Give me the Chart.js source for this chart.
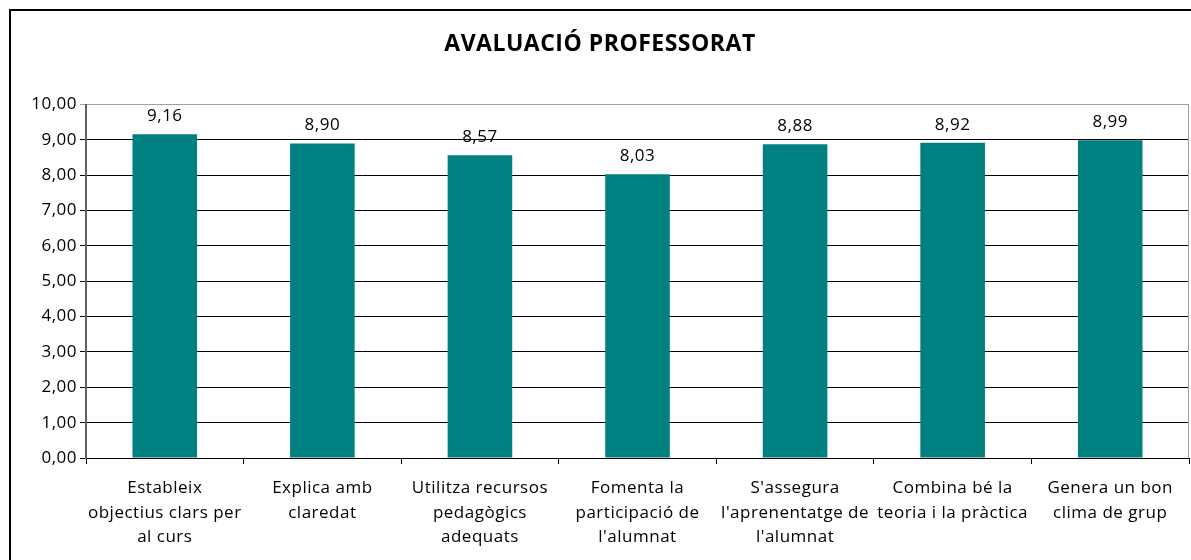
<!DOCTYPE html>
<html>
<head>
<meta charset="utf-8">
<script src="https://cdn.jsdelivr.net/npm/chart.js@4.4.1/dist/chart.umd.min.js"></script>
<style>
  html, body { margin: 0; padding: 0; background: #fff; overflow: hidden; width: 1191px; height: 560px; }
  #frame { position: absolute; left: 9px; top: 9px; width: 1200px; height: 600px; border: 2px solid #000; box-sizing: border-box; }
  #c { position: absolute; left: 11px; top: 11px; }
</style>
</head>
<body>
<div id="frame"></div>
<canvas id="c" width="1188" height="549"></canvas>
<script>
const titleText = "AVALUACIÓ PROFESSORAT";
const categories = [
  ["Estableix", "objectius clars per", "al curs"],
  ["Explica amb", "claredat"],
  ["Utilitza recursos", "pedagògics", "adequats"],
  ["Fomenta la", "participació de", "l'alumnat"],
  ["S'assegura", "l'aprenentatge de", "l'alumnat"],
  ["Combina bé la", "teoria i la pràctica"],
  ["Genera un bon", "clima de grup"]
];
const values = [9.16, 8.90, 8.57, 8.03, 8.88, 8.92, 8.99];
const yMin = 0, yMax = 10, yStep = 1;

const FONT = "'Open Sans', sans-serif";
const fmt = v => Number(v).toFixed(2).replace('.', ',');

const spacingPlugin = {
  id: 'spacing',
  beforeDraw(chart) { chart.ctx.letterSpacing = '0.5px'; }
};
const labelPlugin = {
  id: 'valueLabels',
  afterDatasetsDraw(chart) {
    const ctx = chart.ctx;
    const meta = chart.getDatasetMeta(0);
    ctx.save();
    ctx.font = "17px " + FONT;
    ctx.fillStyle = '#000';
    ctx.textAlign = 'center';
    ctx.textBaseline = 'middle';
    meta.data.forEach((bar, i) => {
      ctx.fillText(fmt(chart.data.datasets[0].data[i]), bar.x, bar.y - 18);
    });
    ctx.restore();
  }
};
const borderPlugin = {
  id: 'areaBorder',
  beforeDatasetsDraw(chart) {
    const a = chart.chartArea, ctx = chart.ctx;
    ctx.save();
    ctx.strokeStyle = '#a0a0a0';
    ctx.lineWidth = 1;
    ctx.beginPath();
    ctx.moveTo(Math.round(a.right) - 0.5, a.top);
    ctx.lineTo(Math.round(a.right) - 0.5, a.bottom);
    ctx.stroke();
    ctx.restore();
  }
};

new Chart(document.getElementById('c'), {
  type: 'bar',
  data: {
    labels: categories,
    datasets: [{
      data: values,
      backgroundColor: '#008080',
      borderWidth: 0,
      categoryPercentage: 1,
      barPercentage: 0.41
    }]
  },
  options: {
    responsive: false,
    devicePixelRatio: 1,
    animation: false,
    layout: { padding: { left: 0, right: 10, top: 0, bottom: 0 } },
    plugins: {
      legend: { display: false },
      tooltip: { enabled: false },
      title: {
        display: true,
        text: titleText,
        color: '#000',
        font: { family: FONT, size: 23, weight: 'bold', lineHeight: 1.2 },
        padding: { top: 20, bottom: 46 }
      }
    },
    scales: {
      x: {
        grid: { offset: true, drawOnChartArea: false, drawTicks: true, tickLength: 6, color: '#000' },
        border: { display: true, color: '#000', width: 1 },
        ticks: {
          color: '#000',
          font: { family: FONT, size: 17, lineHeight: 1.44 },
          padding: 12,
          maxRotation: 0,
          autoSkip: false
        },
        afterFit(scale) { scale.height = 102; }
      },
      y: {
        min: yMin, max: yMax,
        grid: {
          color: c => (c.tick && c.tick.value === yMax) ? '#a0a0a0' : '#000',
          tickLength: 6,
          lineWidth: 1
        },
        border: { display: true, color: '#606060', width: 2 },
        ticks: {
          stepSize: yStep,
          color: '#000',
          font: { family: FONT, size: 17 },
          padding: 3,
          callback: v => fmt(v)
        },
        afterFit(scale) { scale.width = 75; }
      }
    }
  },
  plugins: [spacingPlugin, labelPlugin, borderPlugin]
});
</script>
</body>
</html>
